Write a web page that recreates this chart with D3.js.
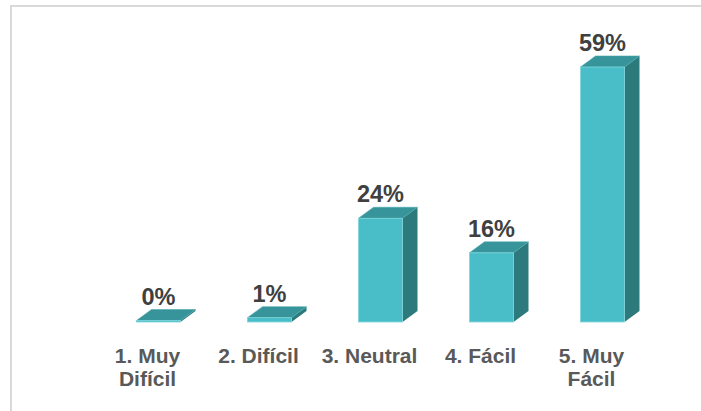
<!DOCTYPE html>
<html>
<head>
<meta charset="utf-8">
<script src="https://cdn.jsdelivr.net/npm/d3@7/dist/d3.min.js"></script>
<style>
  html, body { margin: 0; padding: 0; background: #fff; }
  svg { display: block; }
</style>
</head>
<body>
<svg id="chart" width="701" height="411"></svg>
<script>
const categories = ["1. Muy Difícil", "2. Difícil", "3. Neutral", "4. Fácil", "5. Muy Fácil"];
const categoryLines = [["1. Muy", "Difícil"], ["2. Difícil"], ["3. Neutral"], ["4. Fácil"], ["5. Muy", "Fácil"]];
const values = [0, 1, 24, 16, 59];
const valueLabels = ["0%", "1%", "24%", "16%", "59%"];

const svg = d3.select("#chart");
const W = 701, H = 411;

// border
svg.append("path")
  .attr("d", `M11,${H} L11,6 L${W},6`)
  .attr("fill", "none")
  .attr("stroke", "#d9d9d9")
  .attr("stroke-width", 2);

const baseY = 322;
const x = d3.scaleBand().domain(categories).range([92, 647]).padding(0);
const y = d3.scaleLinear().domain([0, 60]).range([baseY, baseY - 60 * 4.322]);

const frontW = 44, offset = 11 - frontW / 2; // front face left relative to band center
const dx = 15, dy = 11;

const colFront = "#49bec8", colTop = "#36949a", colSide = "#2c7a7c";

const g = svg.append("g");
categories.forEach((c, i) => {
  const cx = x(c) + x.bandwidth() / 2;
  const x0 = cx + offset;
  const x1 = x0 + frontW;
  let yt = y(values[i]);
  if (baseY - yt < 1.5) yt = baseY - 1.5;
  const bar = g.append("g");
  // side
  bar.append("path")
    .attr("d", `M${x1},${yt} L${x1 + dx},${yt - dy} L${x1 + dx},${baseY - dy} L${x1},${baseY} Z`)
    .attr("fill", colSide);
  // top
  bar.append("path")
    .attr("d", `M${x0},${yt} L${x0 + dx},${yt - dy} L${x1 + dx},${yt - dy} L${x1},${yt} Z`)
    .attr("fill", colTop)
    .attr("stroke", "#4aa9ad").attr("stroke-width", 0.6);
  // front
  bar.append("rect")
    .attr("x", x0).attr("y", yt)
    .attr("width", frontW).attr("height", baseY - yt)
    .attr("fill", colFront)
    .attr("stroke", "#7fd4da").attr("stroke-width", 0.8);

  // value label
  g.append("text")
    .attr("x", x0 + frontW / 2)
    .attr("y", yt - dy - 5)
    .attr("text-anchor", "middle")
    .attr("font-family", "Liberation Sans, Arial, sans-serif")
    .attr("font-weight", "bold")
    .attr("font-size", 23.5)
    .attr("fill", "#404040")
    .text(valueLabels[i]);

  // category label
  const t = g.append("text")
    .attr("text-anchor", "middle")
    .attr("font-family", "Liberation Sans, Arial, sans-serif")
    .attr("font-weight", "bold")
    .attr("font-size", 21)
    .attr("fill", "#595959");
  categoryLines[i].forEach((ln, j) => {
    t.append("tspan").attr("x", cx).attr("y", 363 + j * 23).text(ln);
  });
});
</script>
</body>
</html>
